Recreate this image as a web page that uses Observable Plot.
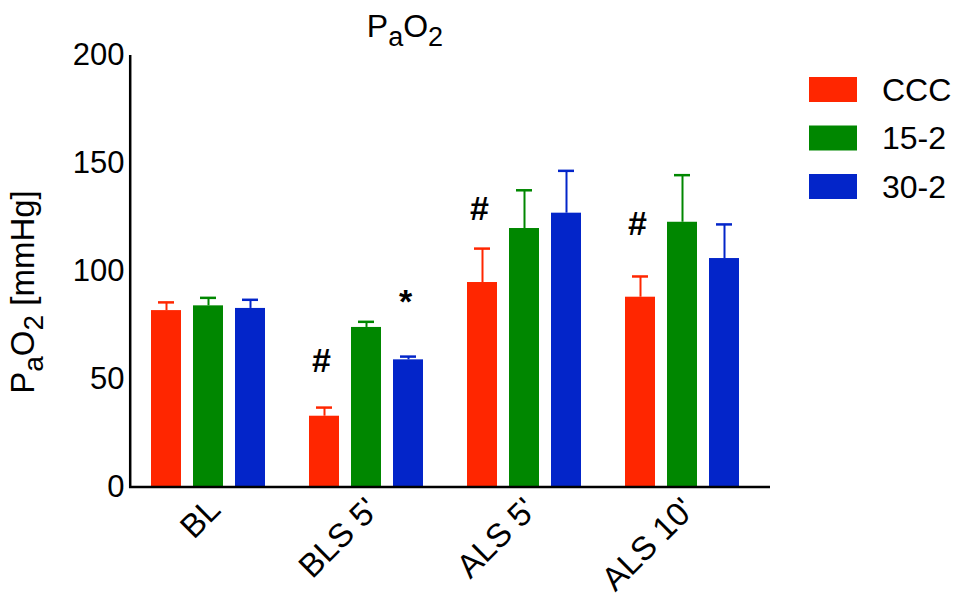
<!DOCTYPE html>
<html>
<head>
<meta charset="utf-8">
<script src="https://cdn.jsdelivr.net/npm/d3@7"></script>
<script src="https://cdn.jsdelivr.net/npm/@observablehq/plot@0.6"></script>
<style>
  html, body { margin: 0; padding: 0; background: #fff; }
  #chart svg { display: block; }
</style>
</head>
<body>
<div id="chart"></div>
<script>
// ---- data ----
const groups = ["BL", "BLS 5'", "ALS 5'", "ALS 10'"];
const series = ["CCC", "15-2", "30-2"];
const colors = ["#ff2600", "#008700", "#0325c9"];

const cccMean = [81.9, 33.0, 94.9, 88.1];
const cccErr  = [3.8, 4.0, 15.7, 9.6];
const g15Mean = [84.1, 74.1, 119.9, 122.8];
const g15Err  = [3.7, 2.6, 17.7, 21.8];
const g30Mean = [82.9, 59.1, 127.0, 106.0];
const g30Err  = [4.0, 1.5, 19.6, 15.8];

const yTicks = [0, 50, 100, 150, 200];

// significance markers
const annGroup  = ["BLS 5'", "BLS 5'", "ALS 5'", "ALS 10'"];
const annSeries = ["CCC", "30-2", "CCC", "CCC"];
const annText   = ["#", "*", "#", "#"];
const annY      = [58.5, 86, 129, 122];

// ---- build tables ----
const means = [cccMean, g15Mean, g30Mean];
const errs = [cccErr, g15Err, g30Err];
const rows = [];
groups.forEach((g, gi) => series.forEach((s, si) => rows.push({g, s, v: means[si][gi], e: errs[si][gi]})));
const anns = annText.map((t, i) => ({g: annGroup[i], s: annSeries[i], t, y: annY[i]}));

const W = 959, H = 599;
const FONT = "Liberation Sans, Arial, Helvetica, sans-serif";

const plot = Plot.plot({
  width: W, height: H,
  marginLeft: 129, marginRight: 189, marginTop: 55, marginBottom: 112,
  style: {fontFamily: FONT, fontSize: "31px", color: "black", background: "white", overflow: "visible"},
  fx: {domain: groups, paddingInner: 0, paddingOuter: 0.018, align: 0, label: null, tickSize: 0, tickPadding: 23, tickRotate: -45, axis: "bottom"},
  x: {domain: series, paddingInner: 0.297, paddingOuter: 0.508, axis: null},
  y: {domain: [0, 200], ticks: yTicks, tickSize: 0, tickPadding: 5, label: null},
  color: {domain: series, range: colors},
  marks: [
    Plot.barY(rows, {fx: "g", x: "s", y: "v", fill: "s"}),
    Plot.ruleX(rows, {fx: "g", x: "s", y1: "v", y2: d => d.v + d.e, stroke: "s", strokeWidth: 2}),
    Plot.tickY(rows, {fx: "g", x: "s", y: d => d.v + d.e, stroke: "s", strokeWidth: 2.5, insetLeft: 7, insetRight: 7}),
    Plot.text(anns, {fx: "g", x: "s", y: "y", text: "t", fontSize: 34, fontWeight: "bold", dx: -3, fill: "black"})
  ]
});

document.getElementById("chart").appendChild(plot);

// ---- axis lines, title, y label, legend ----
const svg = d3.select(plot);
const ys = plot.scale("y");
const fxs = plot.scale("fx");
const xL = fxs.range[0], xR = fxs.range[1];
const y0 = ys.apply(0), yTop = ys.apply(200);

// larger category labels, nudged along their baseline
svg.selectAll("text").filter(function () { return groups.includes(this.textContent); })
  .attr("font-size", 33).attr("dx", 9);

svg.append("line").attr("x1", xL + 1.2).attr("x2", xL + 1.2).attr("y1", yTop).attr("y2", y0 + 1)
  .attr("stroke", "black").attr("stroke-width", 2.5);
svg.append("line").attr("x1", xL).attr("x2", xR).attr("y1", y0).attr("y2", y0)
  .attr("stroke", "black").attr("stroke-width", 2.5);

// title
const title = svg.append("text").attr("x", 405).attr("y", 37).attr("text-anchor", "middle")
  .attr("font-family", FONT).attr("font-size", 32).attr("fill", "black");
title.append("tspan").text("P");
title.append("tspan").attr("dy", 8.5).attr("font-size", 27).text("a");
title.append("tspan").attr("dy", -8.5).text("O");
title.append("tspan").attr("dy", 8.5).attr("font-size", 27).text("2");

// y label
const yl = svg.append("text").attr("transform", "translate(34,292) rotate(-90)").attr("text-anchor", "middle")
  .attr("font-family", FONT).attr("font-size", 33).attr("fill", "black");
yl.append("tspan").text("P");
yl.append("tspan").attr("dy", 8.5).attr("font-size", 28).text("a");
yl.append("tspan").attr("dy", -8.5).text("O");
yl.append("tspan").attr("dy", 8.5).attr("font-size", 28).text("2");
yl.append("tspan").attr("dy", -8.5).text("\u00a0[mmHg]");

// legend
const color = plot.scale("color");
const lg = svg.append("g").attr("font-family", FONT).attr("font-size", 32).attr("text-anchor", "start");
series.forEach((s, i) => {
  const yy = 77 + i * 48.5;
  lg.append("rect").attr("x", 809).attr("y", yy).attr("width", 48).attr("height", 25).attr("fill", color.apply(s));
  lg.append("text").attr("x", 882).attr("y", yy + 12.5).attr("dy", "0.35em").attr("fill", "black").text(s);
});
</script>
</body>
</html>
